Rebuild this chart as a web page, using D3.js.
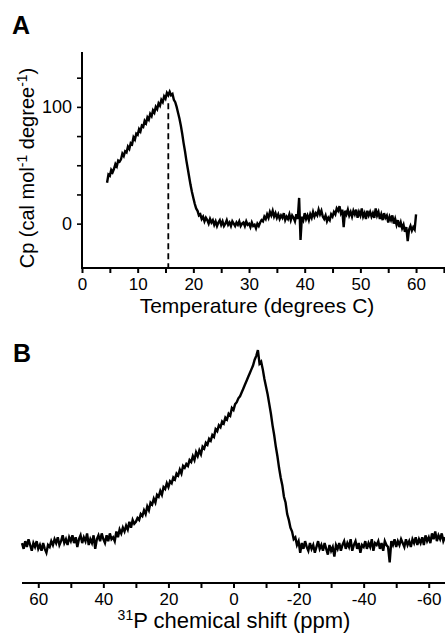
<!DOCTYPE html>
<html>
  <head>
    <meta charset="utf-8" />
    <title>Cp and 31P spectrum</title>
    <script src="https://d3js.org/d3.v7.min.js"></script>
    <style>
      body { margin: 0; background: #fff; }
      svg { display: block; font-family: "Liberation Sans", Arial, Helvetica, sans-serif; }
    </style>
  </head>
  <body>
    <div id="chart"></div>

    <script>
      // Panel A: heat capacity scan (temperature in degrees C, Cp)
      const tempC = [
        4.5, 4.75, 5, 5.25, 5.5, 5.75, 6, 6.25, 6.5, 6.75, 7, 7.25, 7.5, 7.75, 8, 8.25, 8.5, 8.75, 9, 9.25,
        9.5, 9.75, 10, 10.25, 10.5, 10.75, 11, 11.25, 11.5, 11.75, 12, 12.25, 12.5, 12.75, 13, 13.25, 13.5, 13.75, 14, 14.25,
        14.5, 14.75, 15, 15.25, 15.5, 15.75, 16, 16.25, 16.5, 16.75, 17, 17.25, 17.5, 17.75, 18, 18.25, 18.5, 18.75, 19, 19.25,
        19.5, 19.75, 20, 20.25, 20.5, 20.75, 21, 21.25, 21.5, 21.75, 22, 22.25, 22.5, 22.75, 23, 23.25, 23.5, 23.75, 24, 24.25,
        24.5, 24.75, 25, 25.25, 25.5, 25.75, 26, 26.25, 26.5, 26.75, 27, 27.25, 27.5, 27.75, 28, 28.25, 28.5, 28.75, 29, 29.25,
        29.5, 29.75, 30, 30.25, 30.5, 30.75, 31, 31.25, 31.5, 31.75, 32, 32.25, 32.5, 32.75, 33, 33.25, 33.5, 33.75, 34, 34.25,
        34.5, 34.75, 35, 35.25, 35.5, 35.75, 36, 36.25, 36.5, 36.75, 37, 37.25, 37.5, 37.75, 38, 38.25, 38.5, 38.75, 39, 39.25,
        39.5, 39.75, 40, 40.25, 40.5, 40.75, 41, 41.25, 41.5, 41.75, 42, 42.25, 42.5, 42.75, 43, 43.25, 43.5, 43.75, 44, 44.25,
        44.5, 44.75, 45, 45.25, 45.5, 45.75, 46, 46.25, 46.5, 46.75, 47, 47.25, 47.5, 47.75, 48, 48.25, 48.5, 48.75, 49, 49.25,
        49.5, 49.75, 50, 50.25, 50.5, 50.75, 51, 51.25, 51.5, 51.75, 52, 52.25, 52.5, 52.75, 53, 53.25, 53.5, 53.75, 54, 54.25,
        54.5, 54.75, 55, 55.25, 55.5, 55.75, 56, 56.25, 56.5, 56.75, 57, 57.25, 57.5, 57.75, 58, 58.25, 58.5, 58.75, 59, 59.25,
        59.5, 59.75, 60];
      const cp = [
        35, 42, 41, 46, 44, 47, 51, 49, 54, 53, 55, 60, 58, 62, 61, 66, 64, 69, 68, 74,
        72, 77, 76, 81, 79, 84, 83, 88, 86, 91, 89, 94, 92, 97, 95, 100, 98, 103, 101, 106,
        104, 109, 107, 112, 110, 113, 110, 111, 106, 104, 100, 95, 90, 84, 77, 69, 62, 54, 47, 40,
        33, 27, 22, 17, 13, 11, 7, 8, 4, 6, 2, 5, 3, 0, 4, 1, 3, -1, 2, -2,
        1, 3, -1, 2, -2, 0, 3, -1, 1, -2, 2, 0, -2, 1, -1, 2, -2, 0, 1, -2,
        2, -1, 0, -3, 1, -2, -1, -4, 0, -2, 1, 3, 2, 6, 4, 8, 5, 10, 7, 11,
        6, 9, 5, 8, 4, 7, 5, 9, 3, 6, 4, 8, 3, 7, 5, 2, 8, 4, 22, -14,
        6, 3, 9, 4, 7, 3, 8, 5, 10, 6, 9, 7, 12, 8, 11, 6, 4, 7, 2, 5,
        3, 8, 6, 10, 8, 13, 11, 15, 9, 12, -3, 11, 8, 12, 7, 10, 6, 11, 8, 12,
        5, 10, 7, 13, 6, 9, 4, 11, 7, 10, 6, 9, 5, 13, 7, 10, 4, 8, 3, 9,
        5, 7, 1, 6, 3, 7, 0, 4, -1, 3, -3, 1, -4, -1, -7, -3, -15, -5, -2, -6,
        -3, -5, 8];
      const peakTemp = 15.5;
      const tempTicks = [0, 10, 20, 30, 40, 50, 60];
      const cpTicks = [0, 100];

      // Panel B: 31P NMR spectrum (ppm, arbitrary intensity)
      const ppm = [
        65, 64.5, 64, 63.5, 63, 62.5, 62, 61.5, 61, 60.5, 60, 59.5, 59, 58.5, 58, 57.5, 57, 56.5, 56, 55.5,
        55, 54.5, 54, 53.5, 53, 52.5, 52, 51.5, 51, 50.5, 50, 49.5, 49, 48.5, 48, 47.5, 47, 46.5, 46, 45.5,
        45, 44.5, 44, 43.5, 43, 42.5, 42, 41.5, 41, 40.5, 40, 39.5, 39, 38.5, 38, 37.5, 37, 36.5, 36, 35.5,
        35, 34.5, 34, 33.5, 33, 32.5, 32, 31.5, 31, 30.5, 30, 29.5, 29, 28.5, 28, 27.5, 27, 26.5, 26, 25.5,
        25, 24.5, 24, 23.5, 23, 22.5, 22, 21.5, 21, 20.5, 20, 19.5, 19, 18.5, 18, 17.5, 17, 16.5, 16, 15.5,
        15, 14.5, 14, 13.5, 13, 12.5, 12, 11.5, 11, 10.5, 10, 9.5, 9, 8.5, 8, 7.5, 7, 6.5, 6, 5.5,
        5, 4.5, 4, 3.5, 3, 2.5, 2, 1.5, 1, 0.5, 0, -0.5, -1, -1.5, -2, -2.5, -3, -3.5, -4, -4.5,
        -5, -5.5, -6, -6.5, -7, -7.5, -8, -8.5, -9, -9.5, -10, -10.5, -11, -11.5, -12, -12.5, -13, -13.5, -14, -14.5,
        -15, -15.5, -16, -16.5, -17, -17.5, -18, -18.5, -19, -19.5, -20, -20.5, -21, -21.5, -22, -22.5, -23, -23.5, -24, -24.5,
        -25, -25.5, -26, -26.5, -27, -27.5, -28, -28.5, -29, -29.5, -30, -30.5, -31, -31.5, -32, -32.5, -33, -33.5, -34, -34.5,
        -35, -35.5, -36, -36.5, -37, -37.5, -38, -38.5, -39, -39.5, -40, -40.5, -41, -41.5, -42, -42.5, -43, -43.5, -44, -44.5,
        -45, -45.5, -46, -46.5, -47, -47.5, -48, -48.5, -49, -49.5, -50, -50.5, -51, -51.5, -52, -52.5, -53, -53.5, -54, -54.5,
        -55, -55.5, -56, -56.5, -57, -57.5, -58, -58.5, -59, -59.5, -60, -60.5, -61, -61.5, -62, -62.5, -63, -63.5, -64, -64.5,
        -65];
      const intensity = [
        1, -2, 2, -1, 3, 0, -3, 1, -1, 2, -2, 0, -3, 1, -2, -4, 0, -1, 2, 0,
        3, 1, 4, 0, 2, 5, 1, 3, 0, 4, 2, 5, 1, 4, -1, 3, 5, 1, 4, 2,
        6, 0, 3, 1, 5, -2, 3, 5, 2, 6, 3, 1, 5, 2, 6, 3, 4, 2, 7, 4,
        8, 6, 9, 7, 10, 8, 12, 9, 13, 11, 12, 14, 13, 16, 15, 18, 16, 20, 18, 22,
        21, 24, 22, 26, 25, 28, 26, 30, 29, 32, 30, 33, 32, 35, 34, 37, 36, 39, 37, 41,
        40, 42, 41, 44, 43, 46, 44, 48, 46, 49, 47, 51, 50, 53, 52, 55, 54, 57, 56, 60,
        59, 62, 61, 64, 63, 66, 65, 68, 67, 71, 70, 73, 74, 76, 77, 79, 81, 83, 85, 87,
        89, 91, 93, 96, 98, 101, 94, 95, 91, 86, 82, 78, 73, 68, 62, 57, 51, 46, 40, 35,
        31, 25, 22, 16, 13, 9, 7, 3, 4, 0, 2, -4, 1, -2, 2, -1, -3, 1, -2, 0,
        -4, -1, 2, -2, 0, -3, 1, -2, -5, 0, -3, -1, -6, 0, -2, 1, -3, 0, 2, -2,
        1, -1, 3, -3, 0, 2, -2, 1, -4, 0, -1, 2, -2, 1, -1, 3, -3, 1, 0, 2,
        -2, 1, -3, 2, 0, -1, -9, 2, 0, 3, -1, 2, 0, 3, 1, -1, 3, 0, 2, -1,
        3, 1, 4, 0, 3, 1, 4, 0, 5, 2, 4, 1, 6, 3, 7, 2, 5, 3, 6, 2,
        4];
      const ppmTicks = [60, 40, 20, 0, -20, -40, -60];

      const width = 445, height = 635;
      const svg = d3.select("#chart").append("svg")
        .attr("width", width).attr("height", height);

      // ---------- Panel A ----------
      const xA = d3.scaleLinear().domain([0, 65.2]).range([82, 445]);
      const yA = d3.scaleLinear().domain([-38, 147]).range([268, 52]);

      const gA = svg.append("g");

      // axes lines
      gA.append("line").attr("x1", xA(0)).attr("x2", xA(0)).attr("y1", yA(147)).attr("y2", yA(-38))
        .attr("stroke", "#000").attr("stroke-width", 2);
      gA.append("line").attr("x1", xA(0) - 1).attr("x2", width).attr("y1", yA(-38)).attr("y2", yA(-38))
        .attr("stroke", "#000").attr("stroke-width", 2);

      const xAxisA = d3.axisBottom(xA).tickValues(d3.range(0, 66, 5)).tickSize(5)
        .tickFormat(d => tempTicks.includes(d) ? d : "");
      gA.append("g").attr("transform", `translate(0,${yA(-38)})`).call(xAxisA)
        .call(g => g.select(".domain").remove())
        .call(g => g.selectAll("line").attr("stroke-width", 2))
        .call(g => g.selectAll("text").attr("font-size", 17).attr("font-family", null).attr("dy", "0.85em"));

      const yAxisA = d3.axisLeft(yA).tickValues([0, 25, 50, 75, 100, 125]).tickSize(5)
        .tickFormat(d => cpTicks.includes(d) ? d : "");
      gA.append("g").attr("transform", `translate(${xA(0)},0)`).call(yAxisA)
        .call(g => g.select(".domain").remove())
        .call(g => g.selectAll("line").attr("stroke-width", 1.6))
        .call(g => g.selectAll("text").attr("font-size", 18).attr("font-family", null).attr("x", -10));

      // dashed marker at the peak temperature
      gA.append("line")
        .attr("x1", xA(peakTemp)).attr("x2", xA(peakTemp))
        .attr("y1", yA(103)).attr("y2", yA(-38))
        .attr("stroke", "#000").attr("stroke-width", 1.8).attr("stroke-dasharray", "6,4");

      const lineA = d3.line().x((d, i) => xA(tempC[i])).y(d => yA(d));
      gA.append("path").datum(cp).attr("d", lineA)
        .attr("fill", "none").attr("stroke", "#000").attr("stroke-width", 2.4);

      // labels
      gA.append("text").attr("x", 257).attr("y", 313).attr("text-anchor", "middle").attr("font-size", 21)
        .text("Temperature (degrees C)");

      const yLab = gA.append("text").attr("transform", "translate(34,168) rotate(-90)")
        .attr("text-anchor", "middle").attr("font-size", 20);
      yLab.append("tspan").text("Cp (cal mol");
      yLab.append("tspan").attr("dy", -7).attr("font-size", 14).text("-1");
      yLab.append("tspan").attr("dy", 7).text(" degree");
      yLab.append("tspan").attr("dy", -7).attr("font-size", 14).text("-1");
      yLab.append("tspan").attr("dy", 7).text(")");

      svg.append("text").attr("x", 12).attr("y", 34).attr("font-size", 25).attr("font-weight", "bold").text("A");

      // ---------- Panel B ----------
      const xB = d3.scaleLinear().domain([65, -65]).range([22, 445]);
      const yB = d3.scaleLinear().domain([0, 100]).range([545, 352]);
      const gB = svg.append("g");

      gB.append("line").attr("x1", xB(65)).attr("x2", xB(-65)).attr("y1", 583).attr("y2", 583)
        .attr("stroke", "#000").attr("stroke-width", 2);

      const xAxisB = d3.axisBottom(xB).tickValues(d3.range(60, -61, -10)).tickSize(5)
        .tickFormat(d => ppmTicks.includes(d) ? d : "");
      gB.append("g").attr("transform", "translate(0,583)").call(xAxisB)
        .call(g => g.select(".domain").remove())
        .call(g => g.selectAll("line").attr("stroke-width", 2))
        .call(g => g.selectAll("text").attr("font-size", 17).attr("font-family", null).attr("dy", "0.85em"));

      const lineB = d3.line().x((d, i) => xB(ppm[i])).y(d => yB(d));
      gB.append("path").datum(intensity).attr("d", lineB)
        .attr("fill", "none").attr("stroke", "#000").attr("stroke-width", 2.4);

      const xLabB = gB.append("text").attr("x", 234).attr("y", 628).attr("text-anchor", "middle").attr("font-size", 22);
      xLabB.append("tspan").attr("dy", -8).attr("font-size", 14).text("31");
      xLabB.append("tspan").attr("dy", 8).text("P chemical shift (ppm)");

      svg.append("text").attr("x", 13).attr("y", 362).attr("font-size", 25).attr("font-weight", "bold").text("B");
    </script>
  </body>
</html>
